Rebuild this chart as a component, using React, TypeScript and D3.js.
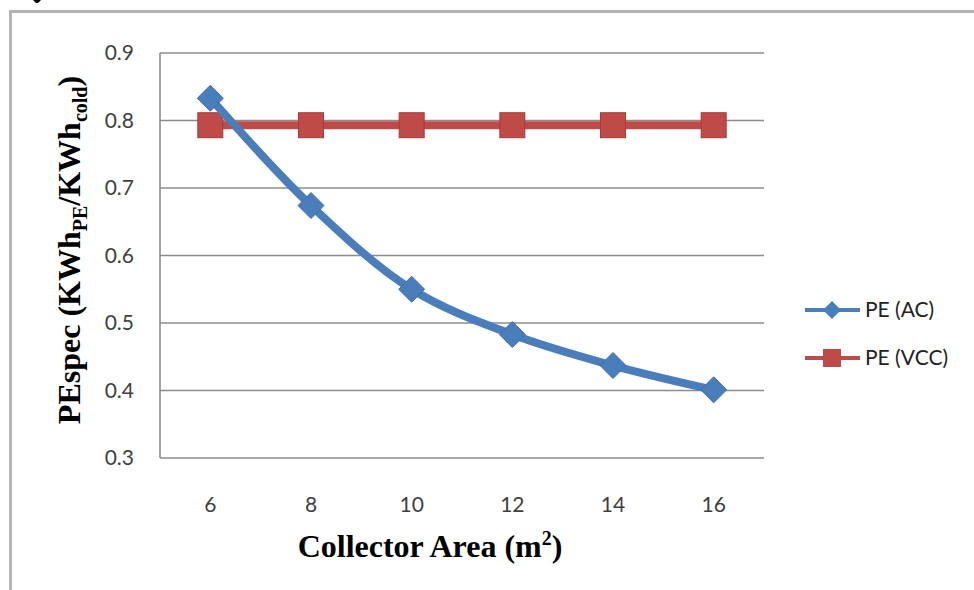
import React from "react";
import * as d3 from "d3";

const categories = [6, 8, 10, 12, 14, 16];
const peAC = [0.833, 0.674, 0.55, 0.483, 0.437, 0.401];
const peVCC = [0.793, 0.793, 0.793, 0.793, 0.793, 0.793];
const yTicks = [0.3, 0.4, 0.5, 0.6, 0.7, 0.8, 0.9];
const seriesNames = ["PE (AC)", "PE (VCC)"];

const W = 974;
const H = 590;
const plot = { left: 160, top: 53, right: 764, bottom: 458 };
const BLUE = "#4a7ebb";
const RED = "#be4b48";
const tickFont = "Lato, 'Open Sans', sans-serif";
const titleFont = "'Liberation Serif', 'Times New Roman', serif";

export default function App() {
  const x = d3
    .scaleBand<number>()
    .domain(categories)
    .range([plot.left, plot.right]);
  const y = d3.scaleLinear().domain([0.3, 0.9]).range([plot.bottom, plot.top]);
  const cx = (c: number) => (x(c) as number) + x.bandwidth() / 2;

  const lineAC = d3
    .line<number>()
    .x((_, i) => cx(categories[i]))
    .y((d) => y(d))
    .curve(d3.curveCatmullRom.alpha(0.5));
  const lineVCC = d3
    .line<number>()
    .x((_, i) => cx(categories[i]))
    .y((d) => y(d));

  const diamond = (px: number, py: number, r: number) =>
    `M${px},${py - r}L${px + r},${py}L${px},${py + r}L${px - r},${py}Z`;

  const legendY = [310, 358];

  return (
    <svg
      width={W}
      height={H}
      style={{ position: "absolute", left: 0, top: 0, background: "#fff" }}
    >
      <rect x={0} y={0} width={W} height={H} fill="#fff" />
      {/* cropped glyph fragment at top edge */}
      <path d="M33,0 L41,0 L38,3 L36,3 Z" fill="#000" />
      {/* outer frame */}
      <path
        d={`M10.5,${H} L10.5,11.5 L${W},11.5`}
        fill="none"
        stroke="#b3b3b3"
        strokeWidth={3}
      />
      {/* gridlines */}
      {yTicks.slice(1).map((t) => (
        <line
          key={t}
          x1={plot.left}
          x2={plot.right}
          y1={y(t)}
          y2={y(t)}
          stroke="#8c8c8c"
          strokeWidth={1.6}
        />
      ))}
      {/* axes */}
      <line
        x1={plot.left}
        x2={plot.left}
        y1={plot.top}
        y2={plot.bottom}
        stroke="#8c8c8c"
        strokeWidth={1.6}
      />
      <line
        x1={plot.left}
        x2={plot.right}
        y1={plot.bottom}
        y2={plot.bottom}
        stroke="#8c8c8c"
        strokeWidth={1.6}
      />
      {/* y tick labels */}
      {yTicks.map((t) => (
        <text
          key={t}
          x={134}
          y={y(t)}
          dy="0.35em"
          textAnchor="end"
          fontFamily={tickFont}
          fontSize={21}
          fill="#404040"
        >
          {t.toFixed(1)}
        </text>
      ))}
      {/* x tick labels */}
      {categories.map((c) => (
        <text
          key={c}
          x={cx(c)}
          y={512}
          textAnchor="middle"
          fontFamily={tickFont}
          fontSize={21}
          fill="#404040"
        >
          {c}
        </text>
      ))}
      {/* series VCC */}
      <path d={lineVCC(peVCC) || ""} fill="none" stroke={RED} strokeWidth={8} />
      {peVCC.map((v, i) => (
        <rect
          key={i}
          x={cx(categories[i]) - 12.5}
          y={y(v) - 12.5}
          width={25}
          height={25}
          fill={RED}
          stroke="#a93a37"
          strokeWidth={1}
        />
      ))}
      {/* series AC */}
      <path d={lineAC(peAC) || ""} fill="none" stroke={BLUE} strokeWidth={8} />
      {peAC.map((v, i) => (
        <path key={i} d={diamond(cx(categories[i]), y(v), 13)} fill={BLUE} stroke="#3d6fad" strokeWidth={1} />
      ))}
      {/* legend */}
      <line x1={805} x2={860} y1={legendY[0]} y2={legendY[0]} stroke={BLUE} strokeWidth={4} />
      <path d={diamond(832, legendY[0], 9)} fill={BLUE} />
      <line x1={805} x2={860} y1={legendY[1]} y2={legendY[1]} stroke={RED} strokeWidth={4} />
      <rect x={823} y={legendY[1] - 9} width={18} height={18} fill={RED} />
      {seriesNames.map((n, i) => (
        <text
          key={n}
          x={865}
          y={legendY[i]}
          dy="0.35em"
          fontFamily={tickFont}
          fontSize={21}
          fill="#222"
        >
          {n}
        </text>
      ))}
      {/* x title */}
      <text
        x={430}
        y={557}
        textAnchor="middle"
        fontFamily={titleFont}
        fontWeight="bold"
        fontSize={32}
        fill="#000"
      >
        Collector Area (m
        <tspan dy={-12} fontSize={20}>
          2
        </tspan>
        <tspan dy={12}>)</tspan>
      </text>
      {/* y title */}
      <text
        transform={`translate(80,250) rotate(-90)`}
        textAnchor="middle"
        fontFamily={titleFont}
        fontWeight="bold"
        fontSize={32}
        fill="#000"
      >
        PEspec (KWh
        <tspan dy={7} fontSize={20}>
          PE
        </tspan>
        <tspan dy={-7}>/KWh</tspan>
        <tspan dy={7} fontSize={20}>
          cold
        </tspan>
        <tspan dy={-7}>)</tspan>
      </text>
    </svg>
  );
}
